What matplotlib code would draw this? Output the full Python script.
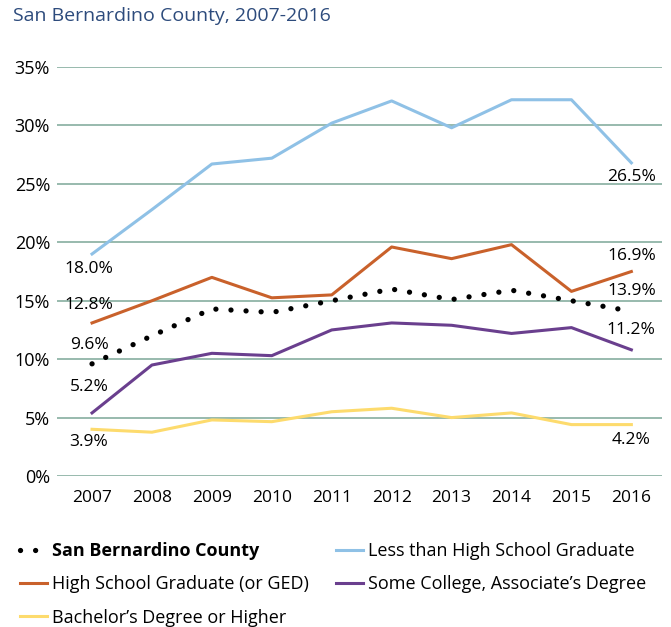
import matplotlib.pyplot as plt
from matplotlib.lines import Line2D

years = ["2007", "2008", "2009", "2010", "2011", "2012", "2013", "2014", "2015", "2016"]

county = [9.6, 12.0, 14.3, 14.0, 15.0, 16.0, 15.1, 15.9, 15.0, 14.1]
less_hs = [19.0, 22.8, 26.7, 27.2, 30.2, 32.1, 29.8, 32.2, 32.2, 26.8]
hs_grad = [13.1, 15.0, 17.0, 15.25, 15.5, 19.6, 18.6, 19.8, 15.8, 17.5]
some_college = [5.4, 9.5, 10.5, 10.3, 12.5, 13.1, 12.9, 12.2, 12.7, 10.8]
bachelors = [4.0, 3.75, 4.8, 4.65, 5.5, 5.8, 5.0, 5.4, 4.4, 4.4]

labels_2007 = ["18.0%", "12.8%", "9.6%", "5.2%", "3.9%"]
labels_2016 = ["26.5%", "16.9%", "13.9%", "11.2%", "4.2%"]

c_county = "black"
c_less = "#8fc1e6"
c_hs = "#c9612b"
c_some = "#6a3f8e"
c_bach = "#fddb6d"
c_grid = "#86ae9f"

plt.rcParams["font.family"] = ["Open Sans", "DejaVu Sans"]

fig = plt.figure(figsize=(6.71, 6.27), dpi=100)
ax = fig.add_axes([0.085, 0.2408, 0.902, 0.6523])

x = list(range(len(years)))
lw = 2.2
ax.plot(x, less_hs, color=c_less, lw=lw, zorder=3)
ax.plot(x, hs_grad, color=c_hs, lw=lw, zorder=3)
ax.plot(x, some_college, color=c_some, lw=lw, zorder=3)
ax.plot(x, bachelors, color=c_bach, lw=lw, zorder=3)
ax.plot(x, county, color=c_county, lw=3.8, linestyle=(0, (0.01, 2.85)),
        dash_capstyle="round", zorder=4)

ax.set_xlim(-0.584, 9.516)
ax.set_ylim(0, 35)
ax.set_yticks(range(0, 36, 5))
ax.set_yticklabels([f"{v}%" for v in range(0, 36, 5)], fontsize=13)
ax.set_xticks(x)
ax.set_xticklabels(years, fontsize=12.5)
ax.tick_params(axis="x", length=0, pad=10)
ax.tick_params(axis="y", length=0, pad=5)
ax.grid(axis="y", color=c_grid, lw=1.2)
ax.set_axisbelow(True)
for s in ax.spines.values():
    s.set_visible(False)

# data labels
y_left = [17.7, 14.65, 11.2, 7.6, 2.9]
for t, yy in zip(labels_2007, y_left):
    ax.text(-0.05, yy, t, ha="center", va="center", fontsize=12.5)
y_right = [25.6, 18.8, 15.85, 12.5, 3.05]
for t, yy in zip(labels_2016, y_right):
    ax.text(9.0, yy, t, ha="center", va="center", fontsize=12.5)

fig.text(0.019, 0.975, "San Bernardino County, 2007-2016", color="#2d4b7c",
         fontsize=14, ha="left", va="center")

handles = [
    Line2D([], [], color=c_county, lw=3.8, linestyle=(0, (0.01, 2.85)), dash_capstyle="round"),
    Line2D([], [], color=c_hs, lw=lw),
    Line2D([], [], color=c_bach, lw=lw),
    Line2D([], [], color=c_less, lw=lw),
    Line2D([], [], color=c_some, lw=lw),
]
names = [
    "San Bernardino County",
    "High School Graduate (or GED)",
    "Bachelor\u2019s Degree or Higher",
    "Less than High School Graduate",
    "Some College, Associate\u2019s Degree",
]
leg = fig.legend(handles, names, ncol=2, loc="upper left", bbox_to_anchor=(0.025, 0.141),
                 frameon=False, fontsize=13, handlelength=1.5, handletextpad=0.25,
                 columnspacing=1.5, labelspacing=0.84, borderaxespad=0, borderpad=0.2)
leg.get_texts()[0].set_fontweight("bold")

fig.savefig("out.png", dpi=100)
